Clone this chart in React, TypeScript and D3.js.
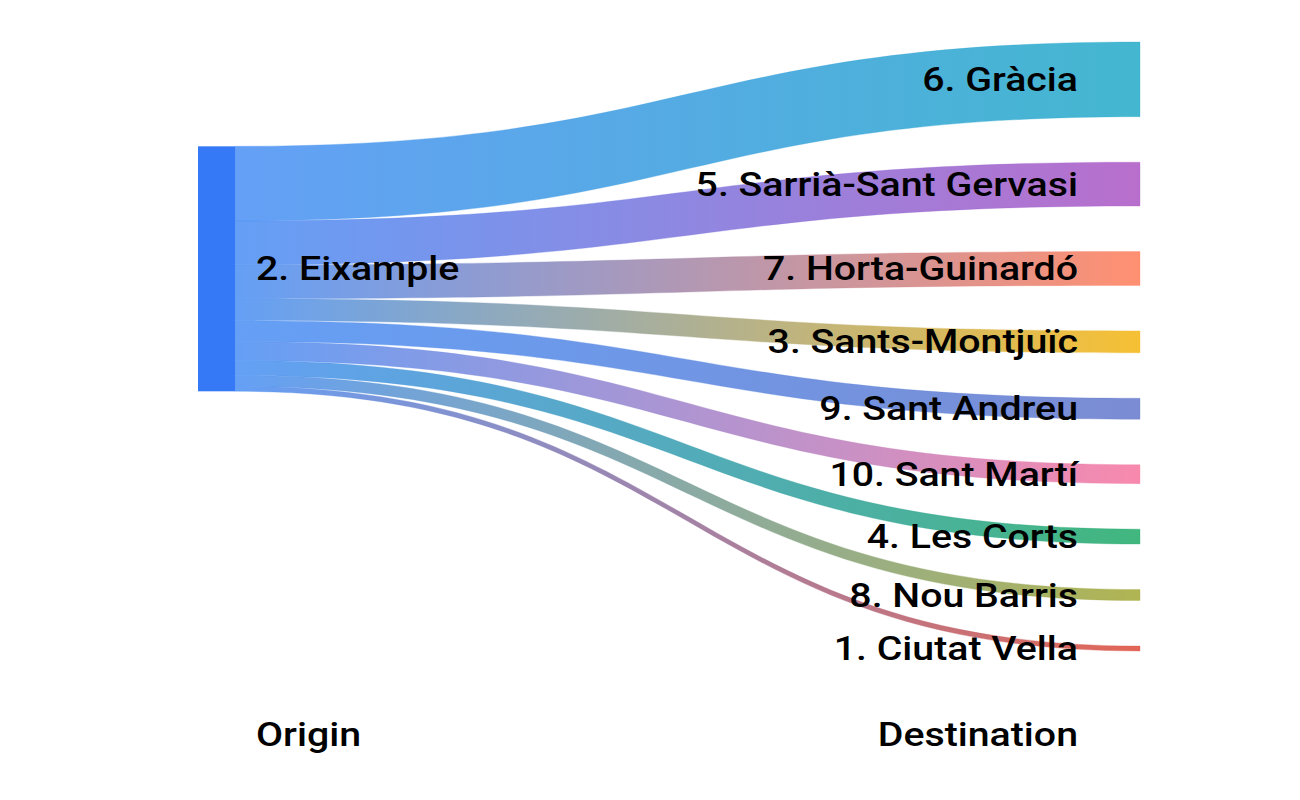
import React from 'react';
import * as d3 from 'd3';

// ---- data ----
const sourceName = '2. Eixample';
const targetNames = [
  '6. Gràcia',
  '5. Sarrià-Sant Gervasi',
  '7. Horta-Guinardó',
  '3. Sants-Montjuïc',
  '9. Sant Andreu',
  '10. Sant Martí',
  '4. Les Corts',
  '8. Nou Barris',
  '1. Ciutat Vella',
];
const flowValues = [75, 44, 34, 22, 21, 19, 15, 11, 5];
const sourceColor = '#3579f6';
const linkSourceColor = '#4b90f4';
const targetColors = [
  '#25abc8',
  '#ad57c4',
  '#ff7e5a',
  '#f5b613',
  '#6579cc',
  '#f776a0',
  '#22ab69',
  '#a3a836',
  '#dd4c3a',
];
const axisLabels = ['Origin', 'Destination'];

// ---- layout ----
const W = 1300;
const H = 800;
const SX = 1.19; // horizontal stretch of the whole drawing
const NODE_X0 = 198;
const NODE_X1 = 235;
const TARGET_X = 1140;
const TOP = 42;
const BOTTOM = 651;
const SOURCE_HEIGHT = 245;
const FONT = 'Roboto, "Noto Sans", sans-serif';
const FS = 33;

const X = (v: number) => v / SX;

export default function App() {
  const total = d3.sum(flowValues);
  const h = d3.scaleLinear().domain([0, total]).range([0, SOURCE_HEIGHT]);
  const n = flowValues.length;
  const pad = (BOTTOM - TOP - h(total)) / (n - 1);

  // target nodes
  const targets: { y0: number; y1: number }[] = [];
  let y = TOP;
  flowValues.forEach((v) => {
    targets.push({ y0: y, y1: y + h(v) });
    y += h(v) + pad;
  });

  // source node centred on the weighted centre of its targets
  const centre =
    d3.sum(flowValues, (v, i) => v * (targets[i].y0 + targets[i].y1) / 2) / total;
  const sy0 = centre - h(total) / 2;
  const sy1 = sy0 + h(total);

  const links: { s0: number; s1: number; t0: number; t1: number }[] = [];
  let cy = sy0;
  flowValues.forEach((v, i) => {
    links.push({ s0: cy, s1: cy + h(v), t0: targets[i].y0, t1: targets[i].y1 });
    cy += h(v);
  });

  const x0 = X(NODE_X1);
  const x1 = X(TARGET_X);
  const xm = (x0 + x1) / 2;
  const band = (l: { s0: number; s1: number; t0: number; t1: number }) => {
    const p = d3.path();
    p.moveTo(x0, l.s0);
    p.bezierCurveTo(xm, l.s0, xm, l.t0, x1, l.t0);
    p.lineTo(x1, l.t1);
    p.bezierCurveTo(xm, l.t1, xm, l.s1, x0, l.s1);
    p.closePath();
    return p.toString();
  };

  return (
    <svg
      width={W}
      height={H}
      style={{ position: 'absolute', left: 0, top: 0, background: '#fff' }}
    >
      <defs>
        {flowValues.map((_, i) => (
          <linearGradient
            key={i}
            id={`grad${i}`}
            gradientUnits="userSpaceOnUse"
            x1={x0}
            x2={x1}
            y1={0}
            y2={0}
          >
            <stop offset="0%" stopColor={linkSourceColor} />
            <stop offset="100%" stopColor={targetColors[i]} />
          </linearGradient>
        ))}
      </defs>
      <g transform={`scale(${SX},1)`}>
        {links.map((l, i) => (
          <path
            key={i}
            d={band(l)}
            fill={`url(#grad${i})`}
            fillOpacity={0.86}
            stroke={`url(#grad${i})`}
            strokeOpacity={0.4}
            strokeWidth={0.7}
          />
        ))}
        <rect
          x={X(NODE_X0)}
          y={sy0}
          width={X(NODE_X1) - X(NODE_X0)}
          height={sy1 - sy0}
          fill={sourceColor}
        />
        <g fontFamily={FONT} fontSize={FS} fontWeight={500} fill="#000">
          <text x={X(256)} y={(sy0 + sy1) / 2} dy="0.35em" textAnchor="start">
            {sourceName}
          </text>
          {targetNames.map((name, i) => (
            <text
              key={name}
              x={X(1078)}
              y={(targets[i].y0 + targets[i].y1) / 2}
              dy="0.35em"
              textAnchor="end"
            >
              {name}
            </text>
          ))}
          <text x={X(256)} y={746} textAnchor="start">
            {axisLabels[0]}
          </text>
          <text x={X(1078)} y={746} textAnchor="end">
            {axisLabels[1]}
          </text>
        </g>
      </g>
    </svg>
  );
}
